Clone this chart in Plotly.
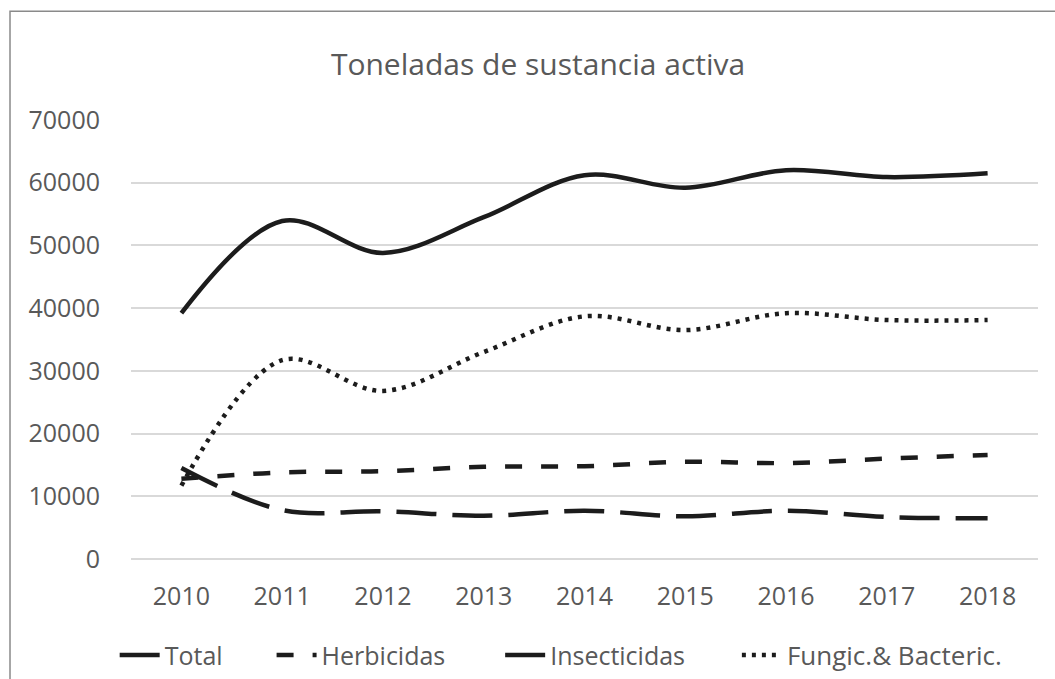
import plotly.graph_objects as go

# Datos (toneladas de sustancia activa)
years = ["2010", "2011", "2012", "2013", "2014", "2015", "2016", "2017", "2018"]
total = [39200, 53900, 48800, 54500, 61200, 59200, 62000, 60900, 61500]
herbicidas = [12800, 13800, 14000, 14700, 14800, 15500, 15300, 16000, 16600]
insecticidas = [14500, 7800, 7600, 6900, 7700, 6800, 7700, 6700, 6500]
fungic = [11700, 31700, 26800, 33000, 38700, 36500, 39200, 38100, 38100]

# nombre, valores, trazo, leyenda, posición x de la leyenda, tamaño de letra
series = [
    ("Total", total, "solid", "legend", -0.018, 25),
    ("Herbicidas", herbicidas, "17px,19px", "legend2", 0.155, 25),
    ("Insecticidas", insecticidas, "40px,16px", "legend3", 0.407, 25),
    ("Fungic.& Bacteric.", fungic, "4px,6px", "legend4", 0.668, 26),
]

TXT = "#595959"
FONT = "Open Sans"

fig = go.Figure()
for name, vals, dash, leg, _, _ in series:
    fig.add_trace(go.Scatter(
        x=years, y=vals, name=name, mode="lines", legend=leg,
        line=dict(color="#1c1c1c", width=4.5, dash=dash, shape="spline", smoothing=1.0),
    ))

# Marco gris del gráfico
fig.add_shape(type="rect", xref="paper", yref="paper",
              x0=-0.1334, x1=1.05, y0=-0.35, y1=1.248,
              line=dict(color="#8a8a8a", width=1.5), layer="below")

legends = {}
for name, vals, dash, leg, lx, fs in series:
    legends[leg] = dict(orientation="h", x=lx, xanchor="left", y=-0.219, yanchor="middle",
                        font=dict(size=fs, color=TXT, family=FONT),
                        bgcolor="rgba(0,0,0,0)", itemwidth=40)

fig.update_layout(
    width=1055, height=679,
    margin=dict(l=131, r=17, t=120, b=120, autoexpand=False),
    paper_bgcolor="white", plot_bgcolor="white",
    font=dict(family=FONT, color=TXT, size=25),
    title=dict(text="Toneladas de sustancia activa", x=0.51, xanchor="center",
               y=1 - 64 / 679, yanchor="middle", yref="container",
               font=dict(size=30, color=TXT, family=FONT)),
    xaxis=dict(type="category", range=[-0.5, 8.5], showgrid=False, showline=False,
               ticks="", tickfont=dict(size=25, color=TXT), ticklabelstandoff=20),
    yaxis=dict(range=[0, 70000], dtick=10000, showgrid=True, gridcolor="#d9d9d9",
               gridwidth=1.5, zeroline=True, zerolinecolor="#d9d9d9", zerolinewidth=1.5,
               showline=False, ticks="", tickformat="d",
               tickfont=dict(size=25, color=TXT), ticklabelstandoff=30),
    showlegend=True,
    **legends,
)

# sin margen del <body> para que la figura ocupe exactamente la ventana
fig.write_html("out.html", config={"displayModeBar": False},
               post_script="document.body.style.margin='0';")
